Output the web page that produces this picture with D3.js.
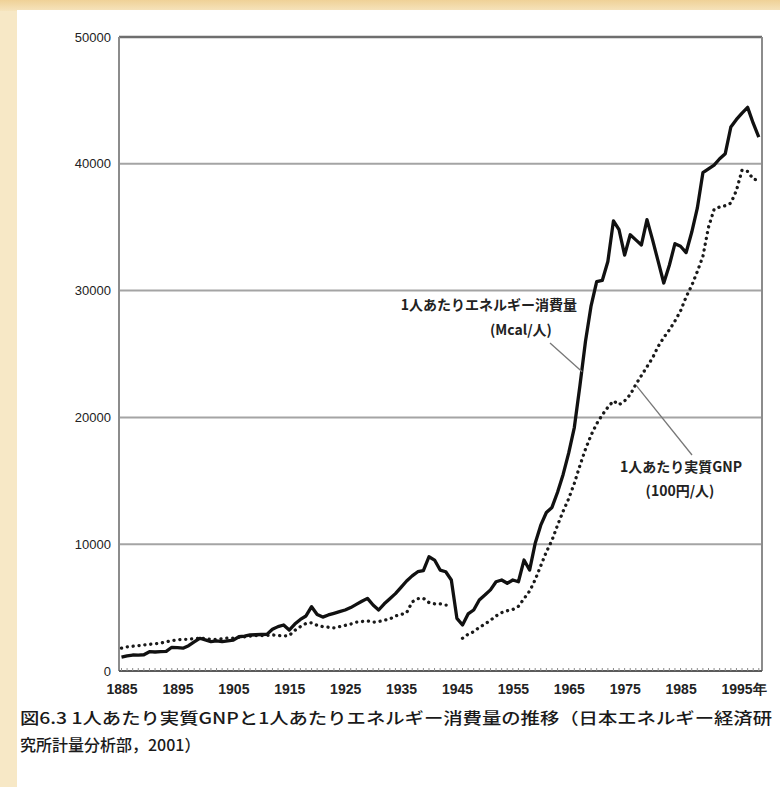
<!DOCTYPE html>
<html>
<head>
<meta charset="utf-8">
<script src="https://cdn.jsdelivr.net/npm/d3@7/dist/d3.min.js"></script>
<style>
body { margin: 0; background: #fff; }
svg { display: block; }
</style>
</head>
<body>
<script>
var W = 780, H = 787;

// one value per year, 1885 .. 1999
var years = d3.range(1885, 2000);

// 1人あたりエネルギー消費量 (Mcal/人)
var energy = [
    1100, 1200, 1260, 1250, 1280, 1520, 1500, 1530, 1550, 1870,   // 1885-
    1850, 1800, 2000, 2300, 2580, 2450, 2310, 2370, 2310, 2380,   // 1895-
    2440, 2700, 2750, 2840, 2860, 2880, 2890, 3290, 3500, 3630,   // 1905-
    3230, 3700, 4070, 4340, 5070, 4450, 4250, 4420, 4550, 4680,   // 1915-
    4810, 5000, 5250, 5500, 5730, 5200, 4810, 5300, 5700, 6100,   // 1925-
    6600, 7100, 7500, 7830, 7910, 9010, 8750, 7960, 7830, 7180,   // 1935-
    4150, 3630, 4500, 4810, 5600, 5990, 6400, 7040, 7180, 6920,   // 1945-
    7180, 7040, 8750, 7960, 10070, 11500, 12500, 12900, 14100, 15500, // 1955-
    17200, 19200, 22500, 26000, 28800, 30700, 30800, 32300, 35500, 34800, // 1965-
    32800, 34400, 34000, 33600, 35600, 34000, 32300, 30600, 32000, 33700, // 1975-
    33500, 33000, 34600, 36500, 39300, 39600, 39900, 40400, 40800, 42900, // 1985-
    43500, 44000, 44450, 43200, 42100                                      // 1995-
];

// 1人あたり実質GNP (100円/人), no value for 1945
var gnp = [
    1800, 1900, 1950, 2000, 2050, 2100, 2150, 2200, 2300, 2400,
    2450, 2500, 2500, 2550, 2600, 2550, 2500, 2500, 2550, 2600,
    2600, 2650, 2700, 2750, 2800, 2800, 2800, 2850, 2800, 2750,
    2800, 3200, 3500, 3750, 3800, 3600, 3500, 3450, 3400, 3500,
    3600, 3700, 3850, 3900, 3950, 3850, 3900, 4000, 4100, 4350,
    4450, 4600, 5450, 5700, 5730, 5400, 5300, 5300, 5200, 5200,
    null, 2580, 2900, 3100, 3440, 3700, 4000, 4340, 4600, 4750,
    4850, 5100, 5700, 6300, 7200, 8300, 9400, 10300, 11500, 12600,
    13600, 14800, 16200, 17500, 18600, 19500, 20200, 20800, 21300, 21000,
    21300, 21800, 22600, 23300, 24000, 24700, 25600, 26300, 26900, 27600,
    28400, 29500, 30400, 31500, 32700, 35000, 36400, 36600, 36700, 36900,
    37900, 39500, 39400, 38800, 38700
];

var yTicks = [0, 10000, 20000, 30000, 40000, 50000];
var xTicks = [1885, 1895, 1905, 1915, 1925, 1935, 1945, 1955, 1965, 1975, 1985, 1995];
var xTickLabels = ['1885', '1895', '1905', '1915', '1925', '1935', '1945', '1955', '1965', '1975', '1985', '1995年'];

var energyLabel = ['1人あたりエネルギー消費量', '(Mcal/人)'];
var gnpLabel = ['1人あたり実質GNP', '(100円/人)'];
var caption = ['図6.3 1人あたり実質GNPと1人あたりエネルギー消費量の推移（日本エネルギー経済研', '究所計量分析部，2001）'];

var frame = {left: 119, right: 762, top: 37, bottom: 671};

var x = d3.scaleLinear().domain([1885, 1999]).range([121.5, 758.8]);
var y = d3.scaleLinear().domain([0, 50000]).range([frame.bottom, frame.top]);

var svg = d3.select('body').append('svg').attr('width', W).attr('height', H);

// page background: beige strips left and top, white sheet
var defs = svg.append('defs');
var grad = defs.append('linearGradient').attr('id', 'topband').attr('x1', 0).attr('x2', 0).attr('y1', 0).attr('y2', 1);
grad.append('stop').attr('offset', '0%').attr('stop-color', '#efd197');
grad.append('stop').attr('offset', '100%').attr('stop-color', '#f6e4bd');

svg.append('rect').attr('width', W).attr('height', H).attr('fill', '#f7e8c6');
svg.append('rect').attr('width', W).attr('height', 11).attr('fill', 'url(#topband)');
svg.append('rect').attr('x', 17).attr('y', 10).attr('width', W - 17).attr('height', H - 10).attr('fill', '#fff');

var g = svg.append('g');

// grid lines
g.selectAll('.grid').data(yTicks.filter(function(d){ return d > 0 && d < 50000; })).enter().append('line')
    .attr('x1', frame.left).attr('x2', frame.right)
    .attr('y1', function(d){ return y(d); }).attr('y2', function(d){ return y(d); })
    .attr('stroke', '#a4a4a4').attr('stroke-width', 2);

// frame
g.append('line').attr('x1', frame.left).attr('x2', frame.right).attr('y1', y(50000)).attr('y2', y(50000))
    .attr('stroke', '#6e6e6e').attr('stroke-width', 2.5);
g.append('line').attr('x1', frame.left).attr('x2', frame.left).attr('y1', frame.top).attr('y2', frame.bottom)
    .attr('stroke', '#8c8c8c').attr('stroke-width', 2);
g.append('line').attr('x1', frame.right).attr('x2', frame.right).attr('y1', frame.top).attr('y2', frame.bottom)
    .attr('stroke', '#8c8c8c').attr('stroke-width', 2);
g.append('line').attr('x1', frame.left).attr('x2', frame.right).attr('y1', y(0)).attr('y2', y(0))
    .attr('stroke', '#5a5a5a').attr('stroke-width', 2.2);

// small yearly ticks on the base line
g.selectAll('.minor').data(years).enter().append('line')
    .attr('x1', function(d){ return x(d); }).attr('x2', function(d){ return x(d); })
    .attr('y1', y(0)).attr('y2', y(0) - 3)
    .attr('stroke', '#8a8a8a').attr('stroke-width', 1);

// y labels
g.selectAll('.ylab').data(yTicks).enter().append('text')
    .attr('x', 111).attr('y', function(d){ return y(d); })
    .attr('dy', '0.35em').attr('text-anchor', 'end')
    .attr('font-family', 'Liberation Sans, Arial, sans-serif').attr('font-size', 13)
    .attr('fill', '#222')
    .text(function(d){ return d; });

// x labels
g.selectAll('.xlab').data(xTicks).enter().append('text')
    .attr('x', function(d){ return x(d); }).attr('y', 694)
    .attr('text-anchor', 'start')
    .attr('dx', -15)
    .attr('font-family', 'Liberation Sans Narrow, Liberation Sans, Arial, sans-serif').attr('font-size', 14)
    .attr('font-weight', 'bold')
    .attr('fill', '#222')
    .text(function(d, i){ return xTickLabels[i]; });

// series
var rows = years.map(function(yr, i){ return {year: yr, e: energy[i], n: gnp[i]}; });

var gnpLine = d3.line()
    .defined(function(d){ return d.n != null; })
    .x(function(d){ return x(d.year); })
    .y(function(d){ return y(d.n); });

var energyLine = d3.line()
    .x(function(d){ return x(d.year); })
    .y(function(d){ return y(d.e); });

g.append('path').datum(rows).attr('d', gnpLine)
    .attr('fill', 'none').attr('stroke', '#1a1a1a').attr('stroke-width', 3.3)
    .attr('stroke-linecap', 'round').attr('stroke-dasharray', '0.1,5.8');

g.append('path').datum(rows).attr('d', energyLine)
    .attr('fill', 'none').attr('stroke', '#111').attr('stroke-width', 3.3)
    .attr('stroke-linejoin', 'round');

// annotations with leader lines
var labelFont = 'Noto Sans CJK JP, sans-serif';

g.append('line')
    .attr('x1', 550).attr('y1', 343)
    .attr('x2', x(1967.4)).attr('y2', y(23600))
    .attr('stroke', '#777').attr('stroke-width', 1.3);
g.append('line')
    .attr('x1', 692).attr('y1', 455)
    .attr('x2', x(1977.1)).attr('y2', y(22500))
    .attr('stroke', '#777').attr('stroke-width', 1.3);

g.append('text').attr('x', 489).attr('y', 310).attr('text-anchor', 'middle')
    .attr('font-family', labelFont).attr('font-size', 14).attr('font-weight', 'bold').attr('fill', '#222')
    .text(energyLabel[0]);
g.append('text').attr('x', 521).attr('y', 335).attr('text-anchor', 'middle')
    .attr('font-family', labelFont).attr('font-size', 14).attr('font-weight', 'bold').attr('fill', '#222')
    .text(energyLabel[1]);

g.append('text').attr('x', 681).attr('y', 472).attr('text-anchor', 'middle')
    .attr('font-family', labelFont).attr('font-size', 14).attr('font-weight', 'bold').attr('fill', '#222')
    .text(gnpLabel[0]);
g.append('text').attr('x', 680).attr('y', 496).attr('text-anchor', 'middle')
    .attr('font-family', labelFont).attr('font-size', 14).attr('font-weight', 'bold').attr('fill', '#222')
    .text(gnpLabel[1]);

// caption
svg.append('text').attr('x', 20).attr('y', 724)
    .attr('font-family', labelFont).attr('font-size', 16).attr('font-weight', 500).attr('fill', '#1a1a1a')
    .attr('textLength', 752).attr('lengthAdjust', 'spacingAndGlyphs')
    .text(caption[0]);
svg.append('text').attr('x', 20).attr('y', 751)
    .attr('font-family', labelFont).attr('font-size', 16).attr('font-weight', 500).attr('fill', '#1a1a1a')
    .text(caption[1]);
</script>
</body>
</html>
